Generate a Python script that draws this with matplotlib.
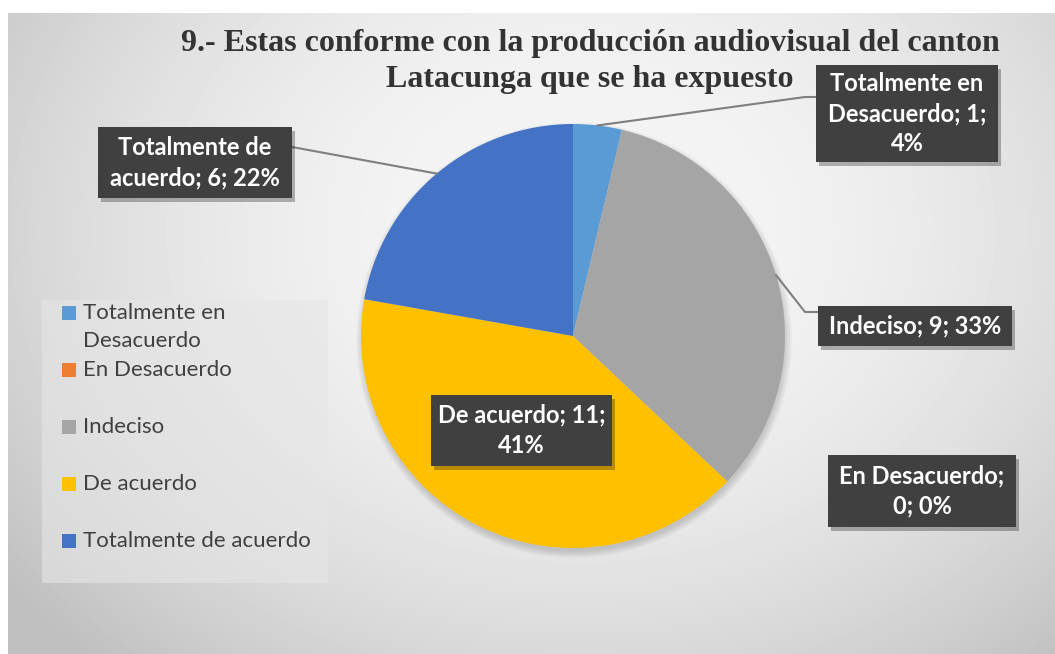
import numpy as np
import matplotlib.pyplot as plt
from matplotlib.patches import Rectangle, Circle

# data
categories = ["Totalmente en\nDesacuerdo", "En Desacuerdo", "Indeciso",
              "De acuerdo", "Totalmente de acuerdo"]
counts = [1, 0, 9, 11, 6]
colors = ["#5B9BD5", "#ED7D31", "#A5A5A5", "#FFC000", "#4472C4"]
label_texts = ["Totalmente en\nDesacuerdo; 1;\n4%", "En Desacuerdo;\n0; 0%",
               "Indeciso; 9; 33%", "De acuerdo; 11;\n41%",
               "Totalmente de\nacuerdo; 6; 22%"]
title_lines = ["9.- Estas conforme con la producción audiovisual del canton",
               "Latacunga que se ha expuesto"]

W, H = 1055, 654
fig = plt.figure(figsize=(W / 100, H / 100), dpi=100)
ax = fig.add_axes([0, 0, 1, 1])


def py(y):
    # pixel row (from top) -> data y
    return H - y


# radial grey background of the chart area
xx, yy = np.meshgrid(np.arange(8, W), np.arange(13, H))
t = np.sqrt(((xx - 580) / 650.0) ** 2 + ((yy - 230) / 520.0) ** 2)
bg = np.clip(246 - 44 * t ** 2, 192, 246) / 255.0
ax.imshow(bg, cmap="gray", vmin=0, vmax=1, extent=(8, W, py(H), py(13)),
          origin="upper", zorder=0, interpolation="bilinear")

# pie
cx, cy, r = 573, py(336), 212
for k in range(8):
    ax.add_patch(Circle((cx + 1, cy - 4), r + 6 - k, color="black",
                        alpha=0.018, lw=0, zorder=1))
wedges, _ = ax.pie(counts, colors=colors, startangle=90, counterclock=False,
                   center=(cx, cy), radius=r, frame=True,
                   wedgeprops=dict(linewidth=0, zorder=2))
ax.set_xlim(0, W)
ax.set_ylim(0, H)
ax.set_aspect("equal")
ax.axis("off")

# data label boxes (left, top, right, bottom in pixels)
boxes = [(816, 65, 998, 162), (828, 455, 1016, 527), (818, 306, 1012, 346),
         (431, 395, 612, 466), (98, 127, 292, 198)]
# leader line elbows (pixel), None = no leader
elbows = [[(805, 97), (816, 97)], None, [(805, 312), (818, 312)], None,
          [(292, 147)]]

for w, txt, (x0, y0, x1, y1), elb in zip(wedges, label_texts, boxes, elbows):
    if elb is not None:
        mid = np.deg2rad((w.theta1 + w.theta2) / 2)
        ax0, ay0 = cx + r * np.cos(mid), cy + r * np.sin(mid)
        xs = [ax0] + [p[0] for p in elb]
        ys = [ay0] + [py(p[1]) for p in elb]
        ax.plot(xs, ys, color="#7f7f7f", lw=1.5, zorder=3)
    ax.add_patch(Rectangle((x0 + 3, py(y1) - 4), x1 - x0, y1 - y0,
                           color="black", alpha=0.28, lw=0, zorder=4))
    ax.add_patch(Rectangle((x0, py(y1)), x1 - x0, y1 - y0,
                           color="#404040", lw=0, zorder=5))
    ax.text((x0 + x1) / 2, py((y0 + y1) / 2), txt, ha="center", va="center",
            color="white", fontsize=17, fontweight="bold", family="Lato",
            linespacing=1.38, zorder=6)

# legend
ax.add_patch(Rectangle((42, py(583)), 286, 283, color="#e6e6e6", alpha=0.6,
                       lw=0, zorder=1))
for i, (lab, col) in enumerate(zip(categories, colors)):
    yy0 = 313 + 57 * i
    ax.add_patch(Rectangle((62, py(yy0) - 7), 14, 14, color=col, lw=0, zorder=3))
    for j, line in enumerate(lab.split("\n")):
        ax.text(83, py(yy0 + 28 * j), line, ha="left", va="center",
                fontsize=16, family="Lato", color="#404040", zorder=3)

# title, one text per line
for j, line in enumerate(title_lines):
    ax.text(590, py(44 + 36 * j), line, ha="center", va="center", fontsize=23,
            fontweight="bold", family="Liberation Serif", color="#333333",
            zorder=3)

fig.savefig("out.png", dpi=100)
